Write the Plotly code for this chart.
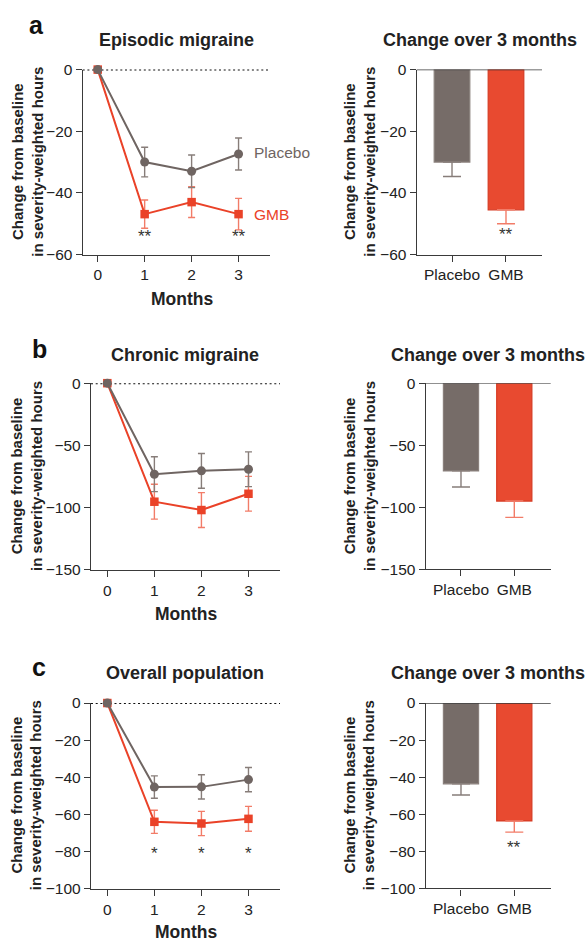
import plotly.graph_objects as go

W, H = 587, 948

months = [0, 1, 2, 3]
bar_groups = ["Placebo", "GMB"]

ep_placebo = [0, -30.0, -33.0, -27.4]
ep_placebo_err = [None, 4.8, 5.3, 5.2]
ep_gmb = [0, -46.9, -43.0, -46.9]
ep_gmb_err = [None, 4.6, 5.0, 5.1]

ch_placebo = [0, -73.2, -70.5, -69.2]
ch_placebo_err = [None, 14.0, 14.0, 14.0]
ch_gmb = [0, -95.3, -102.0, -88.9]
ch_gmb_err = [None, 14.0, 14.0, 14.0]

ov_placebo = [0, -45.2, -45.1, -41.2]
ov_placebo_err = [None, 6.0, 6.5, 6.5]
ov_gmb = [0, -63.9, -64.8, -62.3]
ov_gmb_err = [None, 6.2, 6.5, 6.7]

ep_bar = [-30.0, -45.5]
ep_bar_err = [4.7, 4.5]
ch_bar = [-70.7, -95.0]
ch_bar_err = [13.0, 13.2]
ov_bar = [-43.6, -63.6]
ov_bar_err = [6.0, 6.0]

ep_line_stars = [(1, -54.2, "**"), (3, -54.2, "**")]
ep_bar_stars = [(1, -53.6, "**")]
ov_line_stars = [(1, -80.8, "*"), (2, -80.8, "*"), (3, -80.8, "*")]
ov_bar_stars = [(1, -77.8, "**")]

GRAY = "#6f6562"
RED = "#ea4228"
RED_ERR = "#f27c68"
GRAY_ERR = "#877d79"
GRAY_BAR = "#766c68"
RED_BAR = "#e84a30"
AX = "#3a3a3a"
FONT = "Liberation Sans, Arial, sans-serif"

def px_x(p):
    return p / W

def px_y(p):
    return 1 - p / H

fig = go.Figure()

panels = [
    (82.7, 270.0, 61.7, 250.0, [-60, 0], 20, [-0.32, 3.67], "line"),
    (416.7, 542.0, 61.7, 250.0, [-60, 0], 20, [-0.654, 1.667], "bar"),
    (91.0, 280.0, 381.0, 571.0, [-150, 0], 50, [-0.347, 3.67], "line"),
    (425.7, 550.7, 381.0, 570.5, [-150, 0], 50, [-0.662, 1.683], "bar"),
    (91.0, 280.0, 706.7, 896.0, [-100, 0], 20, [-0.347, 3.67], "line"),
    (425.7, 550.7, 706.7, 895.5, [-100, 0], 20, [-0.662, 1.683], "bar"),
]

line_data = [
    (ep_placebo, ep_placebo_err, ep_gmb, ep_gmb_err),
    (ch_placebo, ch_placebo_err, ch_gmb, ch_gmb_err),
    (ov_placebo, ov_placebo_err, ov_gmb, ov_gmb_err),
]
bar_data = [(ep_bar, ep_bar_err), (ch_bar, ch_bar_err), (ov_bar, ov_bar_err)]

layout = dict(
    width=W, height=H, margin=dict(l=0, r=0, t=0, b=0),
    plot_bgcolor="white", paper_bgcolor="white", showlegend=False,
    font=dict(family=FONT, size=15, color="#222"),
)
shapes = []
annotations = []

for i, (xl, xr, yt, yb, yr, dt, xrg, kind) in enumerate(panels):
    n = i + 1
    xa = "xaxis" if n == 1 else f"xaxis{n}"
    ya = "yaxis" if n == 1 else f"yaxis{n}"
    xref = "x" if n == 1 else f"x{n}"
    yref = "y" if n == 1 else f"y{n}"
    common = dict(showline=True, linecolor=AX, linewidth=1.4, ticks="outside",
                  tickcolor=AX, tickwidth=1.4, showgrid=False, zeroline=False,
                  tickfont=dict(family=FONT, size=15.5, color="#222"), fixedrange=True)
    if kind == "line":
        layout[xa] = dict(domain=[px_x(xl), px_x(xr)], anchor=yref, range=xrg,
                          tickvals=months, ticklen=6, **common)
    else:
        layout[xa] = dict(domain=[px_x(xl), px_x(xr)], anchor=yref, range=xrg,
                          tickvals=[0, 1], ticktext=bar_groups, ticklen=6, **common)
    layout[ya] = dict(domain=[px_y(yb), px_y(yt)], anchor=xref, range=yr,
                      dtick=dt, ticklen=6, **common)

    if kind == "line":
        shapes.append(dict(type="line", xref=f"{xref} domain", yref=yref,
                           x0=0, x1=1, y0=0, y1=0,
                           line=dict(color="#111", width=2, dash="2px,2.7px"), layer="below"))
        pl, ple, gm, gme = line_data[i // 2]
        fig.add_trace(go.Scatter(
            x=months, y=gm, mode="lines+markers", xaxis=xref, yaxis=yref,
            line=dict(color=RED, width=2),
            marker=dict(symbol="square", size=8.5, color=RED),
            error_y=dict(type="data", array=gme, color=RED_ERR, thickness=1.4, width=3.5),
            cliponaxis=False))
        fig.add_trace(go.Scatter(
            x=months, y=pl, mode="lines+markers", xaxis=xref, yaxis=yref,
            line=dict(color=GRAY, width=2),
            marker=dict(symbol="circle", size=9, color=GRAY),
            error_y=dict(type="data", array=ple, color=GRAY_ERR, thickness=1.4, width=3.5),
            cliponaxis=False))
    else:
        shapes.append(dict(type="line", xref=f"{xref} domain", yref=yref,
                           x0=0, x1=1, y0=0, y1=0,
                           line=dict(color=AX, width=1.4), layer="above"))
        bv, be = bar_data[i // 2]
        for k, (fc, lc, ec) in enumerate([(GRAY_BAR, "#8a807c", GRAY_ERR),
                                          (RED_BAR, "#d63a22", RED_ERR)]):
            fig.add_trace(go.Bar(
                x=[k], y=[bv[k]], xaxis=xref, yaxis=yref, width=0.66,
                marker=dict(color=fc, line=dict(color=lc, width=1.2)),
                error_y=dict(type="data", symmetric=False, array=[0], arrayminus=[be[k]],
                             color=ec, thickness=1.4, width=9),
                cliponaxis=False))

layout["barmode"] = "overlay"

ytitle = "Change from baseline<br>in severity-weighted hours"
for cx, cy in [(27.5, 156), (359.5, 156), (26.5, 476), (359.5, 476), (26.5, 801), (359.5, 801)]:
    annotations.append(dict(text=ytitle, x=px_x(cx), y=px_y(cy), xref="paper", yref="paper",
                            showarrow=False, textangle=-90, xanchor="center", yanchor="middle",
                            font=dict(family=FONT, size=15, color="#222", weight="bold")))

for txt, cx, cy in [("Episodic migraine", 176, 32), ("Change over 3 months", 480, 32),
                    ("Chronic migraine", 185, 352), ("Change over 3 months", 488, 352),
                    ("Overall population", 185, 676), ("Change over 3 months", 488, 676)]:
    annotations.append(dict(text=txt, x=px_x(cx), y=px_y(cy), xref="paper", yref="paper",
                            showarrow=False, xanchor="center", yanchor="middle",
                            font=dict(family=FONT, size=18, color="#222", weight="bold")))

for txt, cx, cy in [("a", 37, 16), ("b", 39, 346), ("c", 39, 670)]:
    annotations.append(dict(text=txt, x=px_x(cx), y=px_y(cy), xref="paper", yref="paper",
                            showarrow=False, xanchor="center", yanchor="middle",
                            font=dict(family=FONT, size=25, color="#111", weight="bold")))

for cx, cy in [(182, 295), (186, 616), (186, 940)]:
    annotations.append(dict(text="Months", x=px_x(cx), y=px_y(cy), xref="paper", yref="paper",
                            showarrow=False, xanchor="center", yanchor="middle",
                            font=dict(family=FONT, size=17.5, color="#222", weight="bold")))

annotations.append(dict(text="Placebo", x=3.28, y=ep_placebo[3] + 0.6, xref="x", yref="y",
                        showarrow=False, xanchor="left", yanchor="middle",
                        font=dict(family=FONT, size=15.5, color=GRAY)))
annotations.append(dict(text="GMB", x=3.28, y=ep_gmb[3], xref="x", yref="y",
                        showarrow=False, xanchor="left", yanchor="middle",
                        font=dict(family=FONT, size=15.5, color=RED)))

for stars, xr_, yr_ in [(ep_line_stars, "x", "y"), (ep_bar_stars, "x2", "y2"),
                        (ov_line_stars, "x5", "y5"), (ov_bar_stars, "x6", "y6")]:
    for sx, sy, st in stars:
        annotations.append(dict(text=st, x=sx, y=sy, xref=xr_, yref=yr_, showarrow=False,
                                xanchor="center", yanchor="middle",
                                font=dict(family=FONT, size=17, color="#333")))

layout["shapes"] = shapes
layout["annotations"] = annotations
fig.update_layout(**layout)
fig.write_html("out.html", config={"displayModeBar": False},
               post_script="document.body.style.margin='0px';document.body.style.padding='0px';"
                           "document.documentElement.style.overflow='hidden';")
